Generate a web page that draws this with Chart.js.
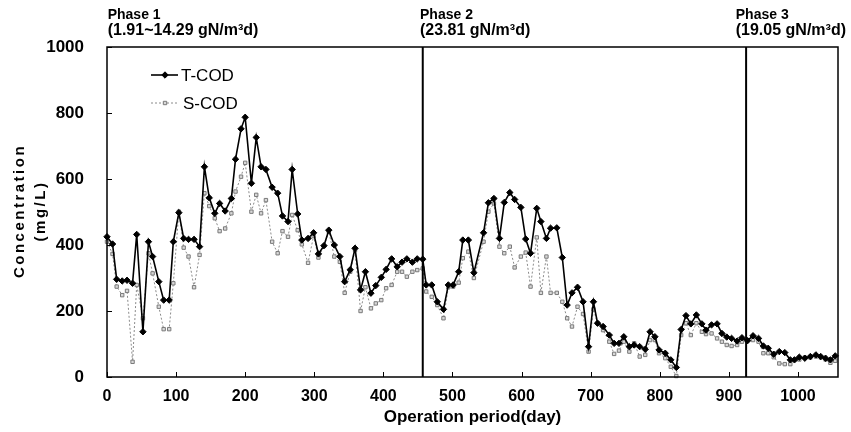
<!DOCTYPE html>
<html>
<head>
<meta charset="utf-8">
<script src="https://cdn.jsdelivr.net/npm/chart.js@4.4.1/dist/chart.umd.min.js"></script>
<style>
html, body { margin: 0; padding: 0; background: #fff; }
#wrap { width: 851px; height: 432px; }
</style>
</head>
<body>
<div id="wrap"><canvas id="codChart" width="851" height="432"></canvas></div>
<script>
// Operation period (day) of each sample
const days = [0, 8, 14, 22, 29, 37, 43, 52, 60, 66, 75, 82, 90, 96, 104, 111, 118, 126, 134, 141,
    148, 156, 163, 171, 180, 186, 194, 200, 209, 216, 223, 230, 239, 247, 254, 262, 268, 276, 282, 291,
    299, 306, 314, 321, 329, 337, 344, 352, 359, 367, 374, 382, 389, 397, 404, 412, 420, 427, 434, 442,
    449, 457, 462, 470, 478, 487, 494, 501, 509, 515, 523, 531, 545, 552, 560, 568, 575, 583, 590, 599,
    606, 613, 622, 628, 636, 642, 651, 659, 666, 673, 681, 689, 697, 704, 710, 718, 727, 734, 741, 748,
    756, 763, 771, 779, 786, 793, 799, 808, 816, 824, 831, 838, 845, 853, 861, 867, 875, 883, 890, 897,
    904, 912, 919, 927, 935, 943, 950, 957, 965, 973, 981, 989, 995, 1002, 1010, 1018, 1026, 1033, 1040, 1047, 1054];

// T-COD (mg/L)
const tCod = [425, 403, 296, 291, 293, 284, 432, 137, 410, 365, 289, 233, 233, 410, 498, 420, 417, 417, 395, 637,
    543, 496, 526, 503, 541, 660, 752, 787, 587, 726, 637, 629, 575, 557, 488, 471, 629, 494, 415, 420,
    437, 373, 398, 445, 400, 365, 289, 325, 390, 264, 319, 254, 277, 302, 326, 358, 334, 348, 358, 348,
    358, 357, 279, 279, 228, 205, 279, 279, 319, 415, 415, 316, 437, 528, 541, 420, 529, 559, 538, 514,
    418, 375, 511, 471, 420, 451, 452, 362, 218, 255, 272, 228, 92, 228, 163, 153, 127, 102, 102, 122,
    92, 97, 92, 84, 137, 122, 82, 72, 52, 29, 144, 186, 161, 188, 161, 142, 158, 161, 132, 121,
    117, 109, 119, 110, 125, 117, 94, 87, 69, 77, 74, 52, 52, 60, 57, 62, 67, 62, 57, 52, 64];

// S-COD (mg/L)
const sCod = [410, 373, 274, 248, 261, 46, 279, 178, 375, 314, 213, 145, 145, 284, 501, 392, 365, 272, 370, 557,
    518, 481, 442, 450, 496, 562, 607, 649, 501, 552, 496, 536, 410, 375, 442, 425, 491, 445, 402, 346,
    427, 362, 397, 440, 365, 349, 255, 319, 385, 200, 272, 208, 223, 233, 269, 279, 319, 319, 304, 319,
    324, 329, 259, 243, 218, 178, 272, 274, 286, 360, 380, 300, 410, 501, 526, 395, 375, 395, 332, 365,
    377, 274, 423, 255, 365, 255, 255, 228, 178, 153, 213, 191, 77, 205, 163, 142, 107, 70, 80, 107,
    77, 102, 62, 67, 112, 112, 72, 57, 31, 3, 127, 163, 127, 163, 137, 130, 132, 117, 107, 97,
    94, 97, 107, 112, 112, 107, 72, 72, 60, 41, 39, 39, 52, 53, 59, 59, 62, 59, 53, 43, 49];

const xTicks = [0, 100, 200, 300, 400, 500, 600, 700, 800, 900, 1000];
const yTicks = [0, 200, 400, 600, 800, 1000];

const phaseBounds = [457, 925];
const phaseLabelDays = [1, 453, 910];
const phaseNames = ['Phase 1', 'Phase 2', 'Phase 3'];
const phaseLoads = ['(1.91~14.29 gN/m\u00B3d)', '(23.81 gN/m\u00B3d)', '(19.05 gN/m\u00B3d)'];
const yTitle = ['Concentration', '(mg/L)'];

const FONT = "'Liberation Sans', Arial, sans-serif";

function toPoints(values) {
    return days.map((d, i) => ({ x: d, y: values[i] }));
}

const seriesT = {
    label: 'T-COD',
    data: toPoints(tCod),
    borderColor: '#000', backgroundColor: '#000',
    borderWidth: 1.6, pointStyle: 'rectRot', pointRadius: 3.2,
    pointBackgroundColor: '#000', pointBorderColor: '#000', pointBorderWidth: 1,
    tension: 0, clip: 6, order: 1
};

const seriesS = {
    label: 'S-COD',
    data: toPoints(sCod),
    borderColor: '#8a8a8a', backgroundColor: '#d0d0d0',
    borderWidth: 1, borderDash: [2, 2], pointStyle: 'rect', pointRadius: 2.4,
    pointBackgroundColor: '#d8d8d8', pointBorderColor: '#7a7a7a', pointBorderWidth: 1,
    tension: 0, clip: 6, order: 2
};

const phaseLines = phaseBounds.map(d => ({
    label: 'bound',
    data: [{ x: d, y: 0 }, { x: d, y: 1000 }],
    borderColor: '#000', borderWidth: 2, pointRadius: 0, order: 0
}));

const frameAndLabels = {
    id: 'frameAndLabels',
    afterDatasetsDraw(chart) {
        const { ctx, chartArea: a, scales: { x, y } } = chart;
        ctx.save();
        ctx.strokeStyle = '#000';
        ctx.lineWidth = 1.5;
        ctx.strokeRect(a.left, a.top, a.right - a.left, a.bottom - a.top);

        // inward ticks
        ctx.lineWidth = 1;
        ctx.beginPath();
        xTicks.forEach(v => {
            const px = Math.round(x.getPixelForValue(v)) + 0.5;
            ctx.moveTo(px, a.bottom);
            ctx.lineTo(px, a.bottom - 5);
        });
        yTicks.forEach(v => {
            const py = Math.round(y.getPixelForValue(v)) + 0.5;
            ctx.moveTo(a.left, py);
            ctx.lineTo(a.left + 5, py);
        });
        ctx.stroke();

        // phase headers
        ctx.fillStyle = '#000';
        ctx.textAlign = 'left';
        ctx.textBaseline = 'middle';
        phaseNames.forEach((name, i) => {
            const px = x.getPixelForValue(phaseLabelDays[i]);
            ctx.font = 'bold 14px ' + FONT;
            ctx.fillText(name, px, 15);
            ctx.font = 'bold 16px ' + FONT;
            ctx.fillText(phaseLoads[i], px, 31);
        });

        // y axis title, letter-spaced
        ctx.save();
        ctx.translate(0, (a.top + a.bottom) / 2);
        ctx.rotate(-Math.PI / 2);
        ctx.textAlign = 'center';
        ctx.font = 'bold 15px ' + FONT;
        ctx.letterSpacing = '2.5px';
        ctx.fillText(yTitle[0], 1, 20);
        ctx.fillText(yTitle[1], 1, 41);
        ctx.restore();

        // legend
        const items = [seriesT, seriesS];
        items.forEach((s, i) => {
            const ly = 75 + i * 28;
            ctx.save();
            ctx.strokeStyle = s.borderColor;
            ctx.lineWidth = s.borderWidth;
            ctx.setLineDash(s.borderDash || []);
            ctx.beginPath();
            ctx.moveTo(151, ly);
            ctx.lineTo(178, ly);
            ctx.stroke();
            ctx.setLineDash([]);
            ctx.fillStyle = s.pointBackgroundColor;
            ctx.strokeStyle = s.pointBorderColor;
            ctx.lineWidth = s.pointBorderWidth;
            Chart.helpers.drawPoint(ctx, { pointStyle: s.pointStyle, radius: s.pointRadius, rotation: 0, borderWidth: 1 }, 165, ly);
            ctx.restore();
            ctx.fillStyle = '#000';
            ctx.font = '17px ' + FONT;
            ctx.fillText(s.label, 181 + i * 2, ly + 1);
        });
        ctx.restore();
    }
};

new Chart(document.getElementById('codChart'), {
    type: 'line',
    data: { datasets: [seriesT, seriesS, ...phaseLines] },
    options: {
        responsive: false, animation: false, devicePixelRatio: 1,
        layout: { padding: { top: 47, right: 13, left: 0, bottom: 0 } },
        plugins: { legend: { display: false }, tooltip: { enabled: false } },
        scales: {
            x: {
                type: 'linear', min: 0, max: 1058,
                afterBuildTicks: s => { s.ticks = xTicks.map(v => ({ value: v })); },
                afterFit: s => { s.height = 55; },
                grid: { display: false, drawTicks: false },
                border: { display: false },
                ticks: {
                    color: '#000', padding: 10, callback: v => String(v),
                    font: { family: FONT, size: 16, weight: 'bold' }
                },
                title: {
                    display: true, text: 'Operation period(day)', color: '#000',
                    font: { family: FONT, size: 17, weight: 'bold' }, padding: { top: 0, bottom: 4 }
                }
            },
            y: {
                min: 0, max: 1000,
                afterBuildTicks: s => { s.ticks = yTicks.map(v => ({ value: v })); },
                afterFit: s => { s.width = 107; },
                grid: { display: false, drawTicks: false },
                border: { display: false },
                ticks: {
                    color: '#000', padding: 23, callback: v => String(v),
                    font: { family: FONT, size: 17, weight: 'bold' }
                },
                title: { display: false }
            }
        }
    },
    plugins: [frameAndLabels]
});
</script>
</body>
</html>
